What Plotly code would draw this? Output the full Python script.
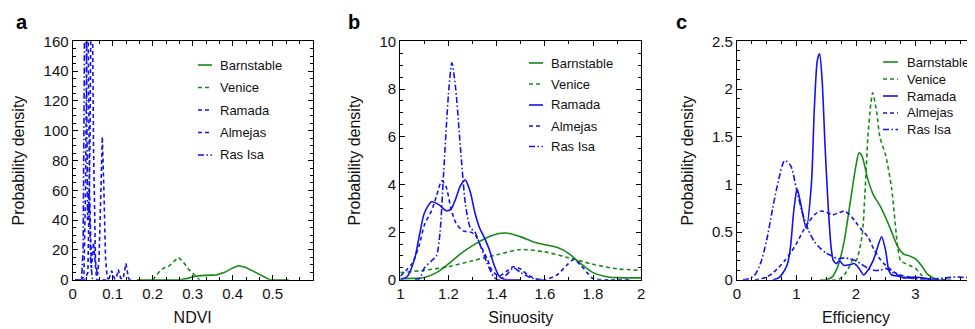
import plotly.graph_objects as go

# page is 975x329; the html body has an 8px margin, so the figure is offset
OFF = 8
W, H = 975 - OFF, 329 - OFF

# ---------------- data ----------------
names = ["Barnstable", "Venice", "Ramada", "Almejas", "Ras Isa"]

# Panel a: NDVI
ndvi_barnstable_x = [0.16, 0.2, 0.25, 0.27, 0.285, 0.3, 0.32, 0.34, 0.36, 0.38, 0.4, 0.414, 0.43, 0.45, 0.47, 0.49, 0.5, 0.54]
ndvi_barnstable_y = [0, 0, 0, 0.1, 0.8, 2.0, 2.8, 3.0, 3.3, 5.0, 8.0, 9.4, 8.6, 6.0, 3.0, 0.4, 0.05, 0]
ndvi_venice_x = [0.2, 0.21, 0.22, 0.227, 0.24, 0.25, 0.264, 0.275, 0.29, 0.3, 0.31, 0.318]
ndvi_venice_y = [0, 3.0, 6.5, 7.8, 9.0, 11.5, 15.0, 12.5, 7.0, 4.5, 1.5, 0]
ndvi_ramada_x = [0.006, 0.03, 0.038, 0.043, 0.0475, 0.052, 0.057, 0.062, 0.066, 0.07, 0.074, 0.078, 0.082, 0.086, 0.09]
ndvi_ramada_y = [0, 0, 5, 90, 240, 90, 12, 3, 15, 60, 96, 60, 15, 2, 0]
ndvi_almejas_x = [0.02, 0.028, 0.032, 0.037, 0.042, 0.047, 0.052, 0.06, 0.09, 0.0975, 0.105, 0.109, 0.114, 0.12, 0.126, 0.133, 0.14, 0.15]
ndvi_almejas_y = [0, 2, 60, 220, 60, 8, 25, 0, 0, 6, 0.5, 1, 7, 1, 0.5, 11, 0.5, 0]
ndvi_rasisa_x = [0.006, 0.022, 0.026, 0.029, 0.031, 0.034, 0.037, 0.041, 0.045, 0.05]
ndvi_rasisa_y = [0, 0, 20, 140, 300, 140, 40, 60, 10, 0]

# Panel b: Sinuosity
sin_barnstable_x = [1.0, 1.05, 1.1, 1.15, 1.2, 1.25, 1.3, 1.35, 1.4, 1.44, 1.5, 1.55, 1.6, 1.65, 1.7, 1.75, 1.8, 1.85, 1.9, 2.0]
sin_barnstable_y = [0.05, 0.06, 0.1, 0.3, 0.67, 1.09, 1.43, 1.72, 1.92, 1.96, 1.8, 1.6, 1.47, 1.36, 1.1, 0.67, 0.3, 0.14, 0.09, 0.08]
sin_venice_x = [1.0, 1.1, 1.2, 1.3, 1.4, 1.5, 1.6, 1.7, 1.8, 1.9, 2.0]
sin_venice_y = [0.3, 0.4, 0.55, 0.8, 1.05, 1.27, 1.17, 0.92, 0.65, 0.46, 0.4]
sin_ramada_x = [1.0, 1.03, 1.06, 1.08, 1.1, 1.13, 1.16, 1.19, 1.21, 1.23, 1.25, 1.27, 1.29, 1.31, 1.33, 1.35, 1.37, 1.39, 1.41, 1.43, 1.46, 1.5]
sin_ramada_y = [0.0, 0.15, 0.9, 1.9, 2.8, 3.27, 3.15, 2.9, 2.95, 3.4, 3.95, 4.18, 3.7, 2.8, 2.15, 1.75, 1.25, 0.6, 0.15, 0.02, 0, 0]
sin_almejas_x = [1.0, 1.05, 1.08, 1.1, 1.13, 1.15, 1.172, 1.19, 1.21, 1.23, 1.26, 1.29, 1.31, 1.33, 1.36, 1.38, 1.41, 1.44, 1.47, 1.5, 1.53, 1.56, 1.6, 1.65, 1.69, 1.72, 1.75, 1.78, 1.8, 1.85, 1.95]
sin_almejas_y = [0.15, 0.7, 1.5, 2.3, 2.9, 3.5, 4.15, 3.9, 3.0, 2.4, 2.05, 2.0, 1.9, 1.5, 0.9, 0.4, 0.15, 0.35, 0.55, 0.45, 0.2, 0.05, 0.0, 0.2, 0.6, 0.85, 0.6, 0.25, 0.05, 0, 0]
sin_rasisa_x = [1.06, 1.08, 1.1, 1.13, 1.15, 1.165, 1.18, 1.2, 1.214, 1.23, 1.25, 1.27, 1.29, 1.31, 1.33, 1.36, 1.39, 1.41, 1.44, 1.47, 1.5, 1.55, 1.6]
sin_rasisa_y = [0, 0.05, 0.5, 0.8, 1.0, 2.0, 4.5, 7.8, 9.1, 8.0, 5.5, 3.2, 2.2, 2.0, 1.5, 0.7, 0.1, 0, 0.2, 0.5, 0.3, 0.05, 0]

# Panel c: Efficiency
eff_barnstable_x = [1.4, 1.5, 1.6, 1.7, 1.8, 1.9, 2.0, 2.05, 2.1, 2.2, 2.3, 2.4, 2.5, 2.6, 2.7, 2.8, 2.9, 3.0, 3.1, 3.2, 3.3, 3.4, 3.6]
eff_barnstable_y = [0, 0, 0.03, 0.15, 0.4, 0.8, 1.2, 1.33, 1.3, 1.05, 0.88, 0.78, 0.65, 0.5, 0.35, 0.27, 0.25, 0.22, 0.15, 0.06, 0.02, 0, 0]
eff_venice_x = [1.6, 1.7, 1.8, 1.9, 1.95, 2.0, 2.1, 2.15, 2.2, 2.25, 2.28, 2.35, 2.4, 2.5, 2.6, 2.7, 2.75, 2.8, 2.9, 3.0, 3.1, 3.2, 3.3]
eff_venice_y = [0, 0, 0.05, 0.15, 0.22, 0.2, 0.45, 0.9, 1.5, 1.85, 1.96, 1.75, 1.5, 1.3, 0.95, 0.35, 0.2, 0.18, 0.15, 0.12, 0.05, 0.01, 0]
eff_ramada_x = [0.6, 0.7, 0.8, 0.85, 0.9, 0.95, 1.0, 1.013, 1.07, 1.164, 1.25, 1.3, 1.35, 1.388, 1.43, 1.48, 1.53, 1.58, 1.62, 1.67, 1.72, 1.8, 1.9, 1.97, 2.05, 2.13, 2.2, 2.3, 2.43, 2.5, 2.55, 2.6, 2.7, 2.8, 3.0, 3.1, 3.3]
eff_ramada_y = [0, 0.02, 0.1, 0.17, 0.35, 0.7, 0.93, 0.95, 0.8, 0.54, 1.0, 1.8, 2.3, 2.37, 2.1, 1.4, 0.8, 0.35, 0.2, 0.17, 0.2, 0.15, 0.16, 0.17, 0.12, 0.05, 0.1, 0.22, 0.45, 0.3, 0.1, 0.05, 0.04, 0.02, 0.03, 0.02, 0]
eff_almejas_x = [0.3, 0.4, 0.5, 0.6, 0.7, 0.8, 0.9, 1.0, 1.1, 1.2, 1.3, 1.4, 1.5, 1.6, 1.7, 1.8, 1.9, 2.0, 2.1, 2.2, 2.3, 2.4, 2.5, 2.6, 2.7, 2.8, 2.9, 3.0, 3.2, 3.5]
eff_almejas_y = [0, 0.01, 0.03, 0.07, 0.13, 0.2, 0.28, 0.38, 0.5, 0.6, 0.68, 0.72, 0.71, 0.68, 0.7, 0.72, 0.68, 0.6, 0.52, 0.45, 0.32, 0.22, 0.15, 0.1, 0.06, 0.04, 0.03, 0.02, 0.01, 0]
eff_rasisa_x = [0.1, 0.2, 0.3, 0.4, 0.5, 0.6, 0.7, 0.8, 0.9, 1.0, 1.1, 1.2, 1.3, 1.4, 1.5, 1.6, 1.7, 1.8, 1.9, 2.0, 2.1, 2.2, 2.3, 2.4, 2.5, 2.6, 2.7, 2.8, 2.9, 3.0, 3.3, 3.5, 3.7, 3.9, 4.0]
eff_rasisa_y = [0, 0.01, 0.05, 0.18, 0.42, 0.75, 1.05, 1.25, 1.2, 0.95, 0.7, 0.52, 0.4, 0.33, 0.28, 0.25, 0.22, 0.23, 0.22, 0.2, 0.16, 0.12, 0.1, 0.1, 0.12, 0.08, 0.05, 0.03, 0.02, 0.01, 0.01, 0.02, 0.03, 0.02, 0.01]

# axis labels
panel_letters = ["a", "b", "c"]
x_titles = ["NDVI", "Sinuosity", "Efficiency"]
y_title = "Probability density"

# ---------------- style ----------------
GREEN = "#178a17"
BLUE = "#1212f0"
colors = [GREEN, GREEN, BLUE, BLUE, BLUE]
DASH = "4px,3px"
DASHDOT = "6px,2.5px,1.5px,2.5px"
dash_a = ["solid", DASH, DASH, DASH, DASHDOT]
dash_bc = ["solid", DASH, "solid", DASH, DASHDOT]
FONT = "Liberation Sans, Arial, sans-serif"

def px(x):
    return (x - OFF) / W

def py(y):
    return 1 - (y - OFF) / H

# plot areas in page pixels (left, right)
areas = [(72.7, 312.7), (400.3, 641.2), (737.0, 975.0)]
TOP, BOT = 41.3, 279.8

panels = [
    dict(xs=[ndvi_barnstable_x, ndvi_venice_x, ndvi_ramada_x, ndvi_almejas_x, ndvi_rasisa_x],
         ys=[ndvi_barnstable_y, ndvi_venice_y, ndvi_ramada_y, ndvi_almejas_y, ndvi_rasisa_y],
         dashes=dash_a, shape="linear",
         xr=[0, 0.6], xtick=[0, 0.1, 0.2, 0.3, 0.4, 0.5], xminor=0.1 / 3,
         yr=[0, 160], ydt=20, yminor=5, ystand=14,
         leg_line=(198, 212), leg_text=218, leg_rows=[65, 87.5, 110, 132.5, 155],
         letter=(14, 22)),
    dict(xs=[sin_barnstable_x, sin_venice_x, sin_ramada_x, sin_almejas_x, sin_rasisa_x],
         ys=[sin_barnstable_y, sin_venice_y, sin_ramada_y, sin_almejas_y, sin_rasisa_y],
         dashes=dash_bc, shape="spline",
         xr=[1, 2], xtick=[1, 1.2, 1.4, 1.6, 1.8, 2], xminor=0.1,
         yr=[0, 10], ydt=2, yminor=0.5, ystand=14,
         leg_line=(529, 543), leg_text=549, leg_rows=[63, 84, 105, 126, 146.5],
         letter=(346, 22)),
    dict(xs=[eff_barnstable_x, eff_venice_x, eff_ramada_x, eff_almejas_x, eff_rasisa_x],
         ys=[eff_barnstable_y, eff_venice_y, eff_ramada_y, eff_almejas_y, eff_rasisa_y],
         dashes=dash_bc, shape="spline",
         xr=[0, 4], xtick=[0, 1, 2, 3, 4], xminor=0.25,
         yr=[0, 2.5], ydt=0.5, yminor=0.1, ystand=14,
         leg_line=(883, 898), leg_text=905, leg_rows=[62, 79, 96, 113, 129.5],
         letter=(674, 22)),
]

fig = go.Figure()
shapes = []
annotations = []

for i, p in enumerate(panels):
    xa = "x" if i == 0 else f"x{i+1}"
    ya = "y" if i == 0 else f"y{i+1}"
    for j in range(5):
        fig.add_trace(go.Scatter(
            x=p["xs"][j], y=p["ys"][j], mode="lines", name=names[j],
            line=dict(color=colors[j], width=1.6, dash=p["dashes"][j],
                      shape=p["shape"], smoothing=0.7),
            xaxis=xa, yaxis=ya, showlegend=False, hoverinfo="skip"))
    l, r = areas[i]
    axkey_x = "xaxis" if i == 0 else f"xaxis{i+1}"
    axkey_y = "yaxis" if i == 0 else f"yaxis{i+1}"
    common = dict(showline=True, linecolor="black", linewidth=1.2, mirror="allticks",
                  ticks="inside", ticklen=5, tickwidth=1.1, tickcolor="black",
                  showgrid=False, zeroline=False, automargin=False,
                  ticklabeloverflow="allow",
                  tickfont=dict(family=FONT, size=15, color="#111"))
    fig.update_layout({
        axkey_x: dict(common, domain=[px(l), min(1.0, px(r))], range=p["xr"], anchor=ya,
                      tickvals=p["xtick"], ticktext=[f"{v:g}" for v in p["xtick"]],
                      minor=dict(dtick=p["xminor"], tick0=0, ticks="inside", ticklen=3,
                                 tickwidth=1, tickcolor="black", showgrid=False),
                      title=dict(text=x_titles[i], standoff=10,
                                 font=dict(family=FONT, size=16, color="#111"))),
        axkey_y: dict(common, domain=[py(BOT), py(TOP)], range=p["yr"], anchor=xa,
                      dtick=p["ydt"], tick0=0,
                      minor=dict(dtick=p["yminor"], tick0=0, ticks="inside", ticklen=3,
                                 tickwidth=1, tickcolor="black", showgrid=False),
                      title=dict(text=y_title, standoff=p["ystand"],
                                 font=dict(family=FONT, size=16, color="#111"))),
    })
    # legend drawn in the figure
    x0, x1 = p["leg_line"]
    for j in range(5):
        yy = p["leg_rows"][j]
        shapes.append(dict(type="line", xref="paper", yref="paper",
                           x0=px(x0), x1=px(x1), y0=py(yy), y1=py(yy),
                           line=dict(color=colors[j], width=1.6, dash=p["dashes"][j])))
        annotations.append(dict(text=names[j], xref="paper", yref="paper",
                                x=px(p["leg_text"]), y=py(yy), xanchor="left", yanchor="middle",
                                showarrow=False, font=dict(family=FONT, size=13, color="#111")))
    lx, ly = p["letter"]
    annotations.append(dict(text=f"<b>{panel_letters[i]}</b>", xref="paper", yref="paper",
                            x=px(lx), y=py(ly), xanchor="left", yanchor="middle",
                            showarrow=False, font=dict(family=FONT, size=20, color="black")))

fig.update_layout(width=W, height=H, margin=dict(l=0, r=0, t=0, b=0),
                  paper_bgcolor="white", plot_bgcolor="white",
                  shapes=shapes, annotations=annotations, showlegend=False)

fig.write_html("out.html")
